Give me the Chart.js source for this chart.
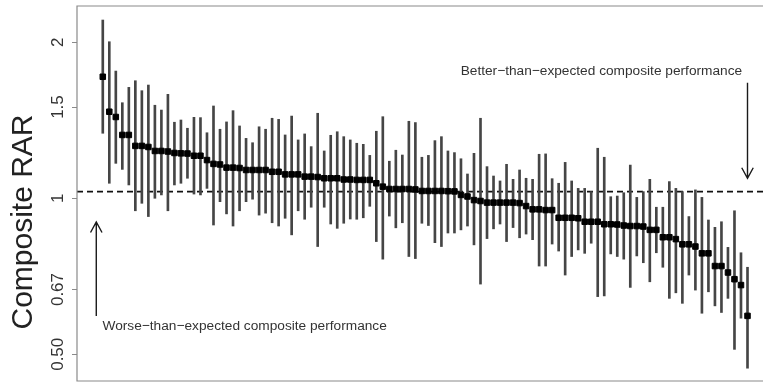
<!DOCTYPE html>
<html lang="en">
<head>
<meta charset="UTF-8">
<title>Composite RAR</title>
<script src="https://cdn.jsdelivr.net/npm/chart.js"></script>
<style>
  html, body { margin: 0; padding: 0; background: #fff; overflow: hidden; }
  #wrap { width: 768px; height: 386px; }
</style>
</head>
<body>
<div id="wrap"><canvas id="rar-chart" width="768" height="386"></canvas></div>
<script>
// hospitals ranked by composite RAR (point estimate, lower and upper interval)
const est = [
  1.716, 1.469, 1.435, 1.325, 1.325, 1.262, 1.262, 1.256, 1.234, 1.234,
  1.231, 1.223, 1.221, 1.220, 1.208, 1.208, 1.185, 1.165, 1.162, 1.146,
  1.146, 1.144, 1.134, 1.134, 1.134, 1.134, 1.125, 1.125, 1.112, 1.112,
  1.112, 1.101, 1.101, 1.099, 1.093, 1.093, 1.093, 1.087, 1.087, 1.085,
  1.085, 1.085, 1.069, 1.053, 1.042, 1.042, 1.042, 1.042, 1.040, 1.033,
  1.033, 1.033, 1.033, 1.032, 1.031, 1.015, 1.008, 0.992, 0.988, 0.981,
  0.981, 0.981, 0.981, 0.981, 0.979, 0.966, 0.952, 0.952, 0.949, 0.949,
  0.917, 0.917, 0.917, 0.915, 0.901, 0.901, 0.901, 0.891, 0.891, 0.890,
  0.886, 0.884, 0.884, 0.882, 0.869, 0.869, 0.841, 0.841, 0.834, 0.815,
  0.815, 0.807, 0.783, 0.783, 0.740, 0.740, 0.719, 0.698, 0.680, 0.593
];
const upper = [
  2.208, 2.005, 1.760, 1.529, 1.637, 1.686, 1.613, 1.654, 1.512, 1.480,
  1.587, 1.402, 1.416, 1.365, 1.433, 1.431, 1.338, 1.507, 1.359, 1.404,
  1.476, 1.379, 1.305, 1.280, 1.374, 1.359, 1.427, 1.420, 1.325, 1.441,
  1.296, 1.331, 1.258, 1.459, 1.234, 1.323, 1.344, 1.315, 1.296, 1.277,
  1.271, 1.210, 1.347, 1.437, 1.179, 1.238, 1.212, 1.408, 1.400, 1.200,
  1.210, 1.292, 1.315, 1.234, 1.225, 1.192, 1.114, 1.221, 1.427, 1.151,
  1.104, 1.080, 1.163, 1.088, 1.134, 1.093, 1.088, 1.216, 1.218, 1.091,
  1.069, 1.173, 1.080, 1.045, 1.045, 1.030, 1.249, 1.200, 1.007, 1.010,
  1.025, 1.159, 1.004, 1.030, 1.088, 0.961, 0.961, 1.077, 1.045, 1.030,
  0.922, 1.038, 1.004, 0.908, 0.879, 0.901, 0.804, 0.946, 0.785, 0.736
];
const lower = [
  1.335, 1.069, 1.168, 1.137, 1.061, 0.946, 0.978, 0.922, 1.000, 1.015,
  0.946, 1.061, 1.069, 1.093, 1.019, 1.015, 1.045, 0.888, 0.985, 0.933,
  0.884, 0.946, 0.985, 0.996, 0.928, 0.936, 0.897, 0.884, 0.915, 0.850,
  0.946, 0.911, 0.961, 0.807, 0.961, 0.892, 0.875, 0.895, 0.912, 0.911,
  0.917, 0.965, 0.825, 0.763, 0.924, 0.877, 0.897, 0.772, 0.765, 0.895,
  0.886, 0.821, 0.807, 0.857, 0.857, 0.869, 0.884, 0.813, 0.683, 0.836,
  0.873, 0.892, 0.825, 0.878, 0.839, 0.853, 0.832, 0.740, 0.740, 0.816,
  0.791, 0.711, 0.772, 0.795, 0.783, 0.819, 0.646, 0.648, 0.781, 0.772,
  0.763, 0.673, 0.774, 0.751, 0.690, 0.785, 0.736, 0.641, 0.657, 0.627,
  0.711, 0.665, 0.600, 0.660, 0.620, 0.602, 0.641, 0.511, 0.587, 0.470
];
const benchmark = 1.03;
const yTickValues = [0.5, 2 / 3, 1, 1.5, 2];
const yTickLabels = ['0.50', '0.67', '1', '1.5', '2'];

const ranks = est.map((v, i) => i + 1);
const xMin = -2.96, xMax = 102.38;
const yMin = 0.444, yMax = 2.35;
const fontFamily = '"Liberation Sans", Arial, sans-serif';

function drawArrow(ctx, x0, y0, x1, y1) {
  const ang = Math.atan2(y1 - y0, x1 - x0);
  const len = 12, spread = 0.5;
  ctx.beginPath();
  ctx.moveTo(x0, y0);
  ctx.lineTo(x1, y1);
  ctx.moveTo(x1 - len * Math.cos(ang - spread), y1 - len * Math.sin(ang - spread));
  ctx.lineTo(x1, y1);
  ctx.lineTo(x1 - len * Math.cos(ang + spread), y1 - len * Math.sin(ang + spread));
  ctx.stroke();
}

// frame, arrows, notes and the axis title
const notesPlugin = {
  id: 'notes',
  afterDraw(chart) {
    const { ctx, chartArea: a, scales: { x, y } } = chart;
    ctx.save();
    ctx.strokeStyle = '#8a8a8a';
    ctx.lineWidth = 1.2;
    ctx.beginPath();
    ctx.moveTo(a.right, a.top);
    ctx.lineTo(a.left, a.top);
    ctx.lineTo(a.left, a.bottom);
    ctx.lineTo(a.right, a.bottom);
    ctx.stroke();

    ctx.strokeStyle = '#1a1a1a';
    ctx.lineWidth = 1.4;
    drawArrow(ctx, x.getPixelForValue(100), y.getPixelForValue(1.67), x.getPixelForValue(100), y.getPixelForValue(1.093));
    drawArrow(ctx, x.getPixelForValue(0), y.getPixelForValue(0.593), x.getPixelForValue(0), y.getPixelForValue(0.9));

    ctx.fillStyle = '#333';
    ctx.font = '13.7px ' + fontFamily;
    ctx.textAlign = 'left';
    ctx.textBaseline = 'middle';
    ctx.fillText('Better\u2212than\u2212expected composite performance', x.getPixelForValue(55.95), y.getPixelForValue(1.76));
    ctx.fillText('Worse\u2212than\u2212expected composite performance', x.getPixelForValue(0.96), y.getPixelForValue(0.567));

    ctx.translate(24, 222);
    ctx.rotate(-Math.PI / 2);
    ctx.textAlign = 'center';
    ctx.fillStyle = '#222';
    ctx.font = '30px ' + fontFamily;
    ctx.fillText('Composite RAR', 0, 0);
    ctx.restore();
  }
};

new Chart(document.getElementById('rar-chart'), {
  type: 'bar',
  data: {
    datasets: [
      {
        type: 'scatter',
        data: ranks.map((r, i) => ({ x: r, y: est[i] })),
        pointStyle: 'rect',
        pointRadius: 3.9,
        backgroundColor: '#000',
        borderColor: '#000',
        borderWidth: 1,
        order: 0
      },
      {
        type: 'bar',
        data: ranks.map((r, i) => ({ x: r, y: [lower[i], upper[i]] })),
        backgroundColor: '#454545',
        barThickness: 2,
        grouped: false,
        order: 1
      },
      {
        type: 'line',
        data: [{ x: xMin, y: benchmark }, { x: xMax, y: benchmark }],
        borderColor: '#111',
        borderWidth: 1.6,
        borderDash: [6, 4],
        pointRadius: 0,
        order: 2
      }
    ]
  },
  options: {
    responsive: false,
    animation: false,
    devicePixelRatio: 1,
    layout: { padding: { top: 6, bottom: 5, left: 0, right: 0 } },
    plugins: {
      legend: { display: false },
      tooltip: { enabled: false }
    },
    scales: {
      x: {
        type: 'linear',
        min: xMin,
        max: xMax,
        offset: false,
        display: false
      },
      y: {
        type: 'logarithmic',
        min: yMin,
        max: yMax,
        afterBuildTicks: s => { s.ticks = yTickValues.map(v => ({ value: v })); },
        afterFit: s => {
          s.width = 77;
          s.paddingTop = 0;
          s.paddingBottom = 0;
        },
        ticks: {
          callback: (v, i) => yTickLabels[i],
          minRotation: 90,
          maxRotation: 90,
          crossAlign: 'center',
          padding: -3,
          color: '#333',
          font: { family: fontFamily, size: 17 }
        },
        grid: { drawOnChartArea: false, drawTicks: true, tickLength: 5, color: '#8a8a8a' },
        border: { display: false }
      }
    }
  },
  plugins: [notesPlugin]
});
</script>
</body>
</html>
